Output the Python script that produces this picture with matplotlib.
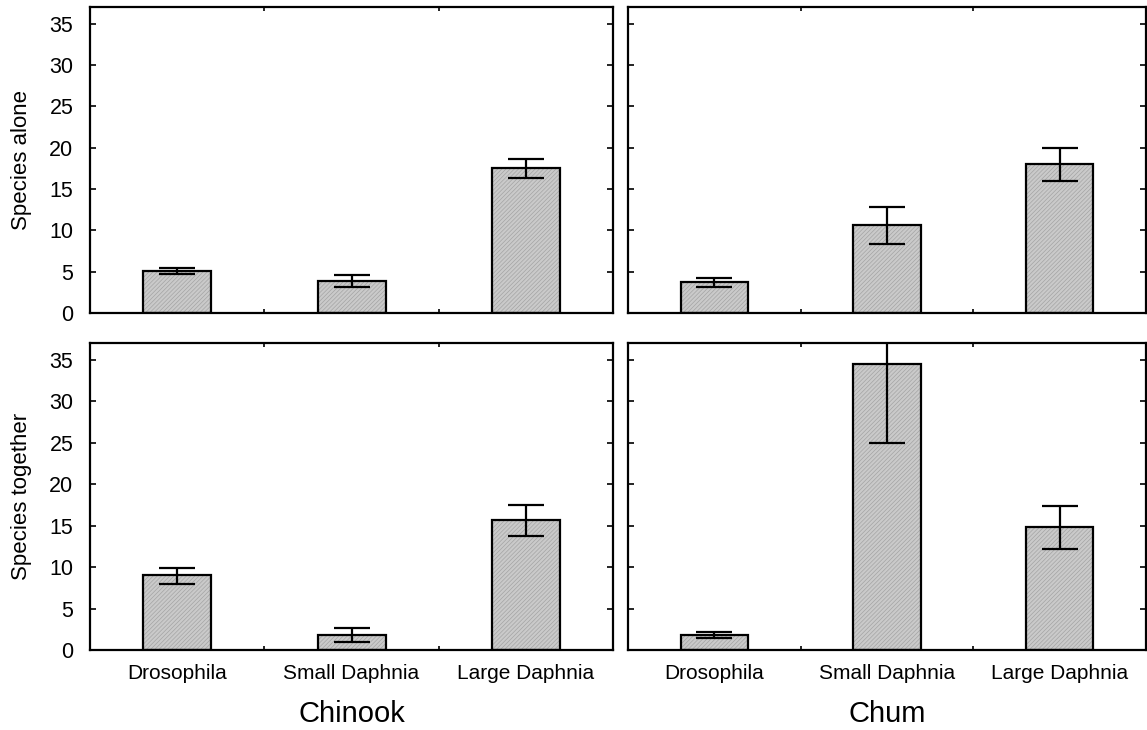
import matplotlib
matplotlib.use('Agg')
import matplotlib.pyplot as plt
import numpy as np

plt.rcParams['font.family'] = ['Liberation Sans', 'DejaVu Sans']
plt.rcParams['hatch.linewidth'] = 0.5

# Data
prey = ['Drosophila', 'Small Daphnia', 'Large Daphnia']
species = ['Chinook', 'Chum']
conditions = ['Species alone', 'Species together']

chinook_alone = [5.1, 3.9, 17.5]
chinook_alone_lo = [4.75, 3.1, 16.3]
chinook_alone_hi = [5.4, 4.6, 18.6]

chum_alone = [3.7, 10.6, 18.0]
chum_alone_lo = [3.2, 8.3, 16.0]
chum_alone_hi = [4.2, 12.8, 20.0]

chinook_together = [9.0, 1.8, 15.7]
chinook_together_lo = [8.0, 1.0, 13.7]
chinook_together_hi = [9.9, 2.7, 17.5]

chum_together = [1.8, 34.5, 14.8]
chum_together_lo = [1.5, 25.0, 12.2]
chum_together_hi = [2.2, 44.0, 17.3]

panels = [
    [(chinook_alone, chinook_alone_lo, chinook_alone_hi),
     (chum_alone, chum_alone_lo, chum_alone_hi)],
    [(chinook_together, chinook_together_lo, chinook_together_hi),
     (chum_together, chum_together_lo, chum_together_hi)],
]

fig = plt.figure(figsize=(11.47, 7.3), dpi=100)
lefts = [0.0785, 0.5475]
widths = [0.456, 0.4516]
bottoms = [0.5712, 0.1096]
heights = [0.4192, 0.4205]

x = np.arange(1, len(prey) + 1)
for r in range(2):
    for c in range(2):
        ax = fig.add_axes([lefts[c], bottoms[r], widths[c], heights[r]])
        vals, lo, hi = panels[r][c]
        vals = np.array(vals)
        yerr = [vals - np.array(lo), np.array(hi) - vals]
        # fine hatched fill, then black outline
        ax.bar(x, vals, width=0.39, color='#cacaca', edgecolor='#a4a4a4',
               hatch='////////', linewidth=0, zorder=2)
        ax.bar(x, vals, width=0.39, fill=False, edgecolor='black',
               linewidth=1.6, zorder=3)
        ax.errorbar(x, vals, yerr=yerr, fmt='none', ecolor='black',
                    elinewidth=1.6, capsize=13, capthick=1.6, zorder=4)
        ax.set_xlim(0.5, 3.5)
        ax.set_ylim(0, 37)
        ax.set_yticks(np.arange(0, 36, 5))
        ax.set_xticks(x)
        ax.set_xticks([1.5, 2.5], minor=True)
        ax.tick_params(axis='x', which='major', length=0, pad=10, labelsize=15)
        ax.tick_params(axis='x', which='minor', direction='in', length=3,
                       width=1.2, top=True, bottom=True)
        ax.tick_params(axis='y', direction='in', length=4, width=1.2,
                       left=True, right=True, pad=12, labelsize=15.5)
        if r == 0:
            ax.set_xticklabels([])
        else:
            ax.set_xticklabels(prey)
        if c == 1:
            ax.set_yticklabels([])
        for sp in ax.spines.values():
            sp.set_linewidth(1.6)
        if r == 1:
            fig.text(lefts[c] + widths[c] / 2, 0.011, species[c],
                     ha='center', va='baseline', fontsize=21)
    fig.text(0.019, bottoms[r] + heights[r] / 2, conditions[r], rotation=90,
             ha='center', va='center', fontsize=16)

fig.savefig('out.png', dpi=100)
